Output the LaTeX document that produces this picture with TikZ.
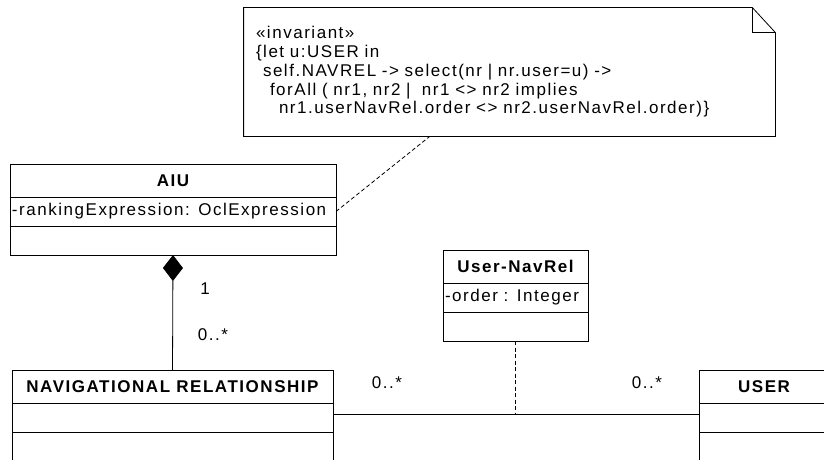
\documentclass[tikz,border=0pt]{standalone}
\usepackage{fontspec}
\setmainfont[LetterSpace=9]{Liberation Sans}
\usetikzlibrary{positioning,calc,arrows.meta}

\tikzset{
    classhead/.style={draw, line width=1pt, outer sep=0pt, inner sep=0pt,
        minimum height=33pt, font=\fontsize{17pt}{18.75pt}\selectfont\bfseries},
    classrow/.style={draw, line width=1pt, outer sep=0pt, inner xsep=2pt, inner ysep=0pt,
        minimum height=29pt, text width=#1, align=left},
    multiplicity/.style={inner sep=0pt},
    notelink/.style={line width=0.8pt, dash pattern=on 4pt off 2.5pt},
}

\begin{document}
\begin{tikzpicture}[x=1pt, y=-1pt, line width=0.8pt, font=\fontsize{17pt}{18.75pt}\selectfont]

    \clip (0,0) rectangle (824,460);

    %========================
    % Class AIU
    %========================
    \node[classhead, minimum width=326pt] (AIUhead) at (173,180.5) {AIU};
    \node[classrow=322pt, below=0pt of AIUhead] (AIUattr) {-rankingExpression: OclExpression};
    \node[classrow=322pt, below=0pt of AIUattr] (AIUops) {};

    %========================
    % Class NAVIGATIONAL RELATIONSHIP
    %========================
    \node[classhead, minimum width=321pt] (NAVhead) at (172.5,386.5) {NAVIGATIONAL RELATIONSHIP};
    \node[classrow=317pt, below=0pt of NAVhead] (NAVattr) {};
    \node[classrow=317pt, minimum height=40pt, below=0pt of NAVattr] (NAVops) {};

    %========================
    % Association class User-NavRel
    %========================
    \node[classhead, minimum width=145pt] (UNRhead) at (515.5,266.5) {User-NavRel};
    \node[classrow=141pt, below=0pt of UNRhead] (UNRattr) {-order : Integer};
    \node[classrow=141pt, below=0pt of UNRattr] (UNRops) {};

    %========================
    % Class USER
    %========================
    \node[classhead, minimum width=130pt] (USERhead) at (764,386.5) {USER};
    \node[classrow=126pt, below=0pt of USERhead] (USERattr) {};
    \node[classrow=126pt, minimum height=40pt, below=0pt of USERattr] (USERops) {};

    %========================
    % Invariant note
    %========================
    \node[minimum width=531pt, minimum height=128pt, inner xsep=12pt, inner ysep=0pt,
          text width=507pt, align=left] (inv) at (509.5,72) {%
        «invariant»\\
        \{let u:USER in\\
        \hspace*{7pt}self.NAVREL -> select(nr | nr.user=u) ->\\
        \hspace*{14pt}forAll ( nr1, nr2 |\ \ nr1 <> nr2 implies\\
        \hspace*{23pt}nr1.userNavRel.order <> nr2.userNavRel.order)\}};
    % outline with folded corner
    \draw (inv.south west) -- (inv.north west) -- ([xshift=-23pt]inv.north east)
        -- ([yshift=-25pt]inv.north east) -- (inv.south east) -- cycle;
    \draw ([xshift=-23pt]inv.north east) |- ([yshift=-25pt]inv.north east);

    % note link
    \coordinate (invfoot) at ($(inv.south west)!0.35!(inv.south east)$);
    \draw[notelink] (AIUattr.east) -- (invfoot);

    %========================
    % Composition AIU <>-- NAVIGATIONAL RELATIONSHIP
    %========================
    \draw[-{Diamond[length=26pt, width=20pt]}] (NAVhead.north) -- (AIUops.south);
    \node[multiplicity] (compone) at (205,289) {1};
    \node[multiplicity] (compmany) at (213,335) {0..*};

    %========================
    % Association NAVIGATIONAL RELATIONSHIP -- USER
    %========================
    \coordinate (navend) at ([yshift=3pt]NAVattr.east);
    \coordinate (userend) at ([yshift=3pt]USERattr.west);
    \draw (navend) -- (userend);
    \node[multiplicity] (navmany) at (387,383) {0..*};
    \node[multiplicity] (usermany) at (647,383) {0..*};

    % association class link
    \draw[notelink] (UNRops.south) -- (UNRops.south |- navend);

\end{tikzpicture}
\end{document}
